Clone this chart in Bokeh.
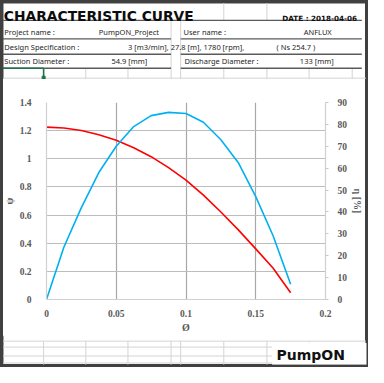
from bokeh.plotting import figure
from bokeh.layouts import column
from bokeh.models import Range1d, LinearAxis, FixedTicker, CustomJSTickFormatter
from bokeh.core.properties import value
from bokeh.embed import file_html
from bokeh.resources import INLINE

# ---- chart data ----
phi = [0, 0.0125, 0.025, 0.0375, 0.05, 0.0625, 0.075, 0.0875, 0.1, 0.1125, 0.125, 0.1375, 0.15, 0.1625, 0.175]
psi = [1.225, 1.219, 1.201, 1.171, 1.131, 1.079, 1.015, 0.937, 0.848, 0.742, 0.622, 0.495, 0.360, 0.222, 0.048]
eta = [0, 24, 42, 58, 70, 79, 84, 85.5, 85, 81, 73, 62.5, 47, 29, 7]

phi_ticks = [0, 0.05, 0.1, 0.15, 0.2]
psi_ticks = [0, 0.2, 0.4, 0.6, 0.8, 1.0, 1.2, 1.4]
eta_ticks = [0, 10, 20, 30, 40, 50, 60, 70, 80, 90]

# ---- header texts ----
title_text = "CHARACTERISTIC CURVE"
date_text = "DATE : 2018-04-06"
left_texts = ["Project name :", "User name :", "Design Specification :",
              "3 [m3/min], 27.8 [m], 1780 [rpm],", "( Ns 254.7 )",
              "Suction Diameter :", "Discharge Diameter :"]
left_x = [4, 191, 4, 133, 288, 4, 192]
left_y = [32.7, 32.7, 48.3, 48.3, 48.3, 63.3, 63.3]
center_texts = ["PumpON_Project", "ANFLUX", "54.9 [mm]", "133 [mm]"]
center_x = [134, 331, 134.5, 330]
center_y = [32.7, 32.7, 63.3, 63.3]
logo_text = "PumpON"

DARK = "#404040"
LIGHT = "#d4d4d4"
TXT = "#262626"
W = 368


def blank(h, y0, y1):
    f = figure(width=W, height=h, x_range=Range1d(0, 384), y_range=Range1d(y1, y0),
               toolbar_location=None, output_backend="svg", min_border=0,
               x_axis_type=None, y_axis_type=None, outline_line_color=None,
               background_fill_color=None, border_fill_color=None, frame_align=False)
    f.quad(left=[0, 381.4], right=[2.6, 384], top=[y0, y0], bottom=[y1, y1], color=DARK)
    return f


# ---------------- header ----------------
hdr = blank(79, 0, 82.4)
hdr.quad(left=[0], right=[384], top=[0], bottom=[2.6], color=DARK)
lx0 = [233, 278, 178, 188, 178, 188, 178, 188, 45, 89, 133, 178, 188, 233, 278, 322, 367, 2.6]
ly0 = [2.6, 2.6, 20.7, 20.7, 40, 40, 56, 56, 70.7, 70.7, 70.7, 70.7, 70.7, 70.7, 70.7, 70.7, 70.7, 81]
lx1 = [233, 278, 178, 188, 178, 188, 178, 188, 45, 89, 133, 178, 188, 233, 278, 322, 367, 381.4]
ly1 = [20.7, 20.7, 40, 40, 56, 56, 70.7, 70.7, 82.4, 82.4, 82.4, 82.4, 82.4, 82.4, 82.4, 82.4, 82.4, 81]
hdr.segment(x0=lx0, y0=ly0, x1=lx1, y1=ly1, line_color=LIGHT, line_width=1)
dx0 = [2.6, 2.6, 188, 2.6, 188, 2.6, 188]
dx1 = [377, 178, 377, 178, 377, 178, 377]
dy = [20.7, 40, 40, 56, 56, 70.7, 70.7]
hdr.segment(x0=dx0, y0=dy, x1=dx1, y1=dy, line_color="#5a5a5a", line_width=1.4)
hdr.segment(x0=[2.6, 45], y0=[70.7, 70.7], x1=[45, 45], y1=[70.7, 80.5],
            line_color="#217346", line_width=1.6)
hdr.scatter(x=[45], y=[80.5], marker="square", size=3, color="#217346")
hdr.text(x=[3.5], y=[16.3], text=[title_text], text_font=value("DejaVu Sans"),
         text_font_style="bold", text_font_size="13.8px", text_color="#0d0d0d",
         text_baseline="alphabetic", text_align="left")
hdr.text(x=[372], y=[19], text=[date_text], text_font=value("DejaVu Sans"),
         text_font_style="bold", text_font_size="7.2px", text_color="#0d0d0d",
         text_baseline="alphabetic", text_align="right")
hdr.text(x=left_x, y=left_y, text=left_texts, text_font=value("Noto Sans"),
         text_font_size="7.5px", text_color=TXT, text_baseline="middle", text_align="left")
hdr.text(x=center_x, y=center_y, text=center_texts, text_font=value("Noto Sans"),
         text_font_size="7.5px", text_color=TXT, text_baseline="middle", text_align="center")

# ---------------- chart ----------------
p = figure(width=W, height=256, x_range=Range1d(0, 0.2), y_range=Range1d(0, 1.4),
           toolbar_location=None, output_backend="svg",
           min_border_left=38, min_border_right=43, min_border_top=23, min_border_bottom=28,
           outline_line_color=None, background_fill_color="white", border_fill_color=None,
           frame_align=False)
p.extra_y_ranges = {"eta": Range1d(0, 90)}

fmt = "return String(Number(tick.toFixed(3)));"
TICK_FONT = "Liberation Serif"
TICK_COLOR = "#595959"

p.xaxis.ticker = FixedTicker(ticks=phi_ticks)
p.yaxis.ticker = FixedTicker(ticks=psi_ticks)
p.xaxis.formatter = CustomJSTickFormatter(code=fmt)
p.yaxis.formatter = CustomJSTickFormatter(code=fmt)
p.xaxis.axis_label = "Ø"
p.yaxis.axis_label = "ψ"

ax_r = LinearAxis(y_range_name="eta", ticker=FixedTicker(ticks=eta_ticks), axis_label="η [%]")
p.add_layout(ax_r, "right")

for ax in [p.xaxis[0], p.yaxis[0], ax_r]:
    ax.axis_line_color = "#d0d0d0"
    ax.axis_line_width = 1.2
    ax.major_tick_line_color = None
    ax.minor_tick_line_color = None
    ax.major_label_text_font = TICK_FONT
    ax.major_label_text_font_style = "bold"
    ax.major_label_text_font_size = "9.5px"
    ax.major_label_text_color = TICK_COLOR
    ax.axis_label_text_font = TICK_FONT
    ax.axis_label_text_font_style = "bold"
    ax.axis_label_text_font_size = "10px"
    ax.axis_label_text_color = TICK_COLOR

ax_r.major_tick_line_color = "#c8c8c8"
ax_r.major_tick_out = 3
ax_r.major_tick_in = 0
ax_r.major_label_standoff = 6
ax_r.axis_label_standoff = 5
p.yaxis.major_label_standoff = 9
p.yaxis.axis_label_standoff = 2
p.xaxis.major_label_standoff = 4
p.xaxis.axis_label_standoff = 2

p.xgrid.ticker = FixedTicker(ticks=phi_ticks)
p.ygrid.ticker = FixedTicker(ticks=psi_ticks)
p.xgrid.grid_line_color = "#a8a8a8"
p.ygrid.grid_line_color = "#bdbdbd"
p.xgrid.grid_line_width = 1.2
p.ygrid.grid_line_width = 1.2

p.line(phi, psi, line_color="#ff0000", line_width=1.6)
p.line(phi, eta, line_color="#00b0f0", line_width=1.6, y_range_name="eta")

# ---------------- footer ----------------
ftr = blank(32, 349.6, 383.0)
fx0 = [2.6, 2.6, 2.6, 2.6, 45, 89, 133, 178, 188, 233, 278, 322]
fx1 = [381.4, 381.4, 381.4, 381.4, 45, 89, 133, 178, 188, 233, 278, 322]
fy0 = [355.5, 361.7, 371, 378.3, 355.5, 355.5, 355.5, 355.5, 355.5, 355.5, 355.5, 355.5]
fy1 = [355.5, 361.7, 371, 378.3, 380.5, 380.5, 380.5, 380.5, 380.5, 380.5, 380.5, 361.7]
ftr.segment(x0=fx0, y0=fy0, x1=fx1, y1=fy1, line_color=LIGHT, line_width=1)
ftr.quad(left=[284], right=[381.4], top=[357.5], bottom=[380.5], color="white")
ftr.quad(left=[0], right=[384], top=[380.5], bottom=[383.0], color=DARK)
ftr.text(x=[288], y=[369.5], text=[logo_text], text_font=value("DejaVu Sans"),
         text_font_style="bold", text_font_size="14px", text_color="#111111",
         text_baseline="middle", text_align="left")

layout = column(hdr, p, ftr, spacing=0,
                styles={"box-shadow": "inset 0 0 0 3px #404040", "background-color": "white"})

open("out.html", "w").write(file_html(layout, INLINE))
